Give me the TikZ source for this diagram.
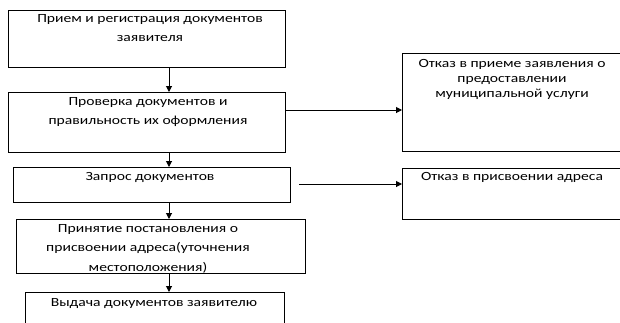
\documentclass[tikz,border=0pt]{standalone}
\usepackage{fontspec}
\setmainfont{Carlito}[FakeStretch=1.25]
\usetikzlibrary{arrows.meta}
\begin{document}
\begin{tikzpicture}[x=1pt,y=-1pt,
  box/.style={draw=black,line width=1pt,rectangle,anchor=north west,inner sep=0pt},
  txt/.style={anchor=north,align=center,inner sep=0pt,font=\fontsize{12.5}{19.5}\selectfont},
  txtr/.style={txt,font=\fontsize{12.5}{15}\selectfont},
  arr/.style={-{Triangle[length=6pt,width=6pt]},line width=1pt,black}]
\useasboundingbox (0,0) rectangle (620,322);
\node[box,minimum width=277pt,minimum height=57pt] (b1) at (8,10) {};
\node[box,minimum width=277pt,minimum height=60pt] (b2) at (8,92) {};
\node[box,minimum width=277pt,minimum height=35pt] (b3) at (13,167) {};
\node[box,minimum width=289pt,minimum height=54pt] (b4) at (16,219) {};
\node[box,minimum width=259pt,minimum height=40pt] (b5) at (25,292) {};
\node[box,minimum width=222pt,minimum height=98pt] (r1) at (402,53) {};
\node[box,minimum width=222pt,minimum height=51pt] (r2) at (402,168) {};
\node[txt] (t1) at (150,14) {Прием и регистрация документов\\заявителя};
\node[txt] (t2) at (148,97) {Проверка документов и\\правильность их оформления};
\node[txt] (t3) at (150,172) {Запрос документов};
\node[txt] (t4) at (148,224) {Принятие постановления о\\присвоении адреса(уточнения\\местоположения)};
\node[txt] (t5) at (154,298) {Выдача документов заявителю};
\node[txtr] (t6) at (512,59) {Отказ в приеме заявления о\\предоставлении\\муниципальной услуги};
\node[txt] (t7) at (512,172) {Отказ в присвоении адреса};
\coordinate (ax) at (169,0);
\coordinate (ay1) at (0,110);
\coordinate (ay2) at (0,184);
\draw[arr] (b1.south -| ax) -- (b2.north -| ax);
\draw[arr] (b2.south -| ax) -- (b3.north -| ax);
\draw[arr] (b3.south -| ax) -- (b4.north -| ax);
\draw[arr] (b4.south -| ax) -- (b5.north -| ax);
\draw[arr] (b2.east |- ay1) -- (r1.west |- ay1);
\draw[arr] ([xshift=8pt]b3.east |- ay2) -- (r2.west |- ay2);
\end{tikzpicture}
\end{document}
